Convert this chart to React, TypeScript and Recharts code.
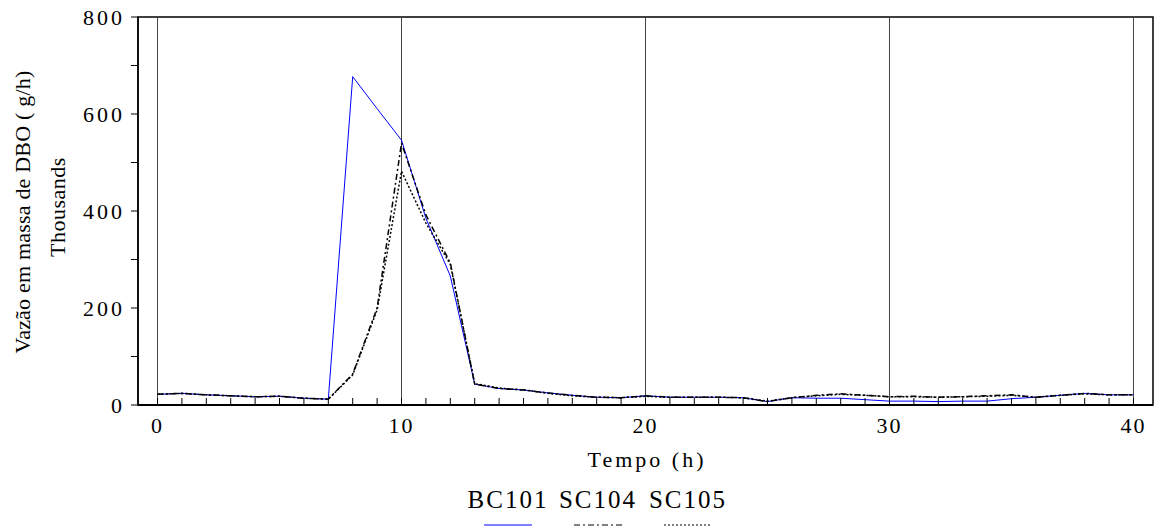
import {
  LineChart,
  Line,
  XAxis,
  YAxis,
  ReferenceLine,
  ReferenceArea,
  Legend,
} from "recharts";

const SERIF = "Liberation Serif, Tinos, DejaVu Serif, serif";

const hours = [
  0, 1, 2, 3, 4, 5, 6, 7, 8, 9, 10, 11, 12, 13, 14, 15, 16, 17, 18, 19, 20,
  21, 22, 23, 24, 25, 26, 27, 28, 29, 30, 31, 32, 33, 34, 35, 36, 37, 38, 39, 40,
];

// values in thousands of g/h
const bc101 = [
  22, 24, 21, 19, 17, 18, 14, 12, 677, 611, 546, 385, 266, 43, 34, 31, 25, 20,
  16, 15, 19, 16, 16, 16, 15, 7, 15, 14, 14, 11, 8, 8, 7, 8, 8, 13, 16, 20, 24,
  21, 21,
];
const sc104 = [
  22, 24, 21, 19, 17, 18, 14, 12, 64, 200, 540, 392, 293, 43, 34, 31, 25, 20,
  16, 15, 19, 16, 16, 16, 15, 7, 15, 20, 23, 20, 17, 18, 16, 17, 19, 21, 16, 20,
  24, 21, 21,
];
const sc105 = [
  22, 24, 21, 19, 17, 18, 14, 12, 62, 196, 482, 375, 290, 44, 35, 31, 24, 19,
  16, 15, 18, 16, 16, 16, 15, 8, 15, 19, 22, 20, 17, 17, 16, 17, 18, 20, 16, 20,
  23, 21, 21,
];

const xTicks = hours;
const gridHours = [0, 10, 20, 30, 40];
const yTicks = [0, 100, 200, 300, 400, 500, 600, 700, 800];

const seriesNames = ["BC101", "SC104", "SC105"];

const data = hours.map((h, i) => ({
  h,
  BC101: bc101[i],
  SC104: sc104[i],
  SC105: sc105[i],
}));

const legendStyles = [
  { stroke: "#0000ff", dash: undefined },
  { stroke: "#000", dash: "6 3 2 3" },
  { stroke: "#000", dash: "2 2" },
];

function XTick(props: any) {
  const { x, y, payload } = props;
  const v = payload.value as number;
  return (
    <g>
      <line x1={x} x2={x} y1={y} y2={y - 7} stroke="#000" strokeWidth={1} />
      {v % 10 === 0 && (
        <text
          x={x}
          y={y + 28}
          textAnchor="middle"
          fontFamily={SERIF}
          fontSize={22}
          letterSpacing={2}
          fill="#000"
        >
          {v}
        </text>
      )}
    </g>
  );
}

function renderLegend() {
  return (
    <div
      style={{
        display: "flex",
        justifyContent: "center",
        fontFamily: SERIF,
        fontSize: 25,
        letterSpacing: 2,
        color: "#000",
        paddingLeft: 36,
      }}
    >
      {seriesNames.map((name, i) => (
        <div
          key={name}
          style={{
            width: 90,
            display: "flex",
            flexDirection: "column",
            alignItems: "center",
          }}
        >
          <span style={{ lineHeight: "28px" }}>{name}</span>
          <svg width={48} height={14}>
            <line
              x1={0}
              x2={48}
              y1={11}
              y2={11}
              stroke={legendStyles[i].stroke}
              strokeDasharray={legendStyles[i].dash}
              strokeWidth={1}
            />
          </svg>
        </div>
      ))}
    </div>
  );
}

export default function App() {
  return (
    <div style={{ position: "absolute", left: 0, top: 0, background: "#fff" }}>
      <LineChart
        width={1160}
        height={530}
        data={data}
        margin={{ top: 17, right: 7, bottom: 95, left: 0 }}
      >
        <ReferenceArea
          x1={-0.8}
          x2={40.8}
          y1={0}
          y2={800}
          fill="none"
          stroke="#000"
          strokeWidth={1.5}
        />
        {gridHours.map((g) => (
          <ReferenceLine key={g} x={g} stroke="#444" strokeWidth={1} />
        ))}
        <XAxis
          dataKey="h"
          type="number"
          domain={[-0.8, 40.8]}
          ticks={xTicks}
          interval={0}
          height={30}
          tickSize={0}
          tickMargin={0}
          tickLine={false}
          axisLine={{ stroke: "#000", strokeWidth: 2 }}
          tick={<XTick />}
          label={{
            content: () => (
              <text
                x={647}
                y={467}
                textAnchor="middle"
                fontFamily={SERIF}
                fontSize={22}
                letterSpacing={3}
                fill="#000"
              >
                Tempo (h)
              </text>
            ),
          }}
        />
        <YAxis
          type="number"
          domain={[0, 800]}
          ticks={yTicks}
          interval={0}
          width={138}
          tickSize={7}
          tickMargin={6}
          tickLine={{ stroke: "#000" }}
          axisLine={{ stroke: "#000", strokeWidth: 1.5 }}
          tick={{ fill: "#000", fontSize: 22, fontFamily: SERIF, letterSpacing: 3 }}
          tickFormatter={(v: number) => (v % 200 === 0 ? String(v) : "")}
          label={{
            content: () => (
              <g fontFamily={SERIF} fontSize={22} fill="#000">
                <text
                  x={22}
                  y={212}
                  transform="rotate(-90 22 212)"
                  textAnchor="middle"
                  dominantBaseline="central"
                  letterSpacing={0.2}
                >
                  Vazão em massa de DBO ( g/h)
                </text>
                <text
                  x={57}
                  y={207}
                  transform="rotate(-90 57 207)"
                  textAnchor="middle"
                  dominantBaseline="central"
                  letterSpacing={0.5}
                >
                  Thousands
                </text>
              </g>
            ),
          }}
        />
        <Legend
          layout="horizontal"
          verticalAlign="middle"
          align="center"
          content={renderLegend}
          wrapperStyle={{ top: 486, left: 0, width: 1160 }}
        />
        <Line
          type="linear"
          dataKey="BC101"
          stroke="#0000ff"
          strokeWidth={1}
          dot={false}
          isAnimationActive={false}
        />
        <Line
          type="linear"
          dataKey="SC104"
          stroke="#000"
          strokeWidth={1.5}
          strokeDasharray="6 3 2 3"
          dot={false}
          isAnimationActive={false}
        />
        <Line
          type="linear"
          dataKey="SC105"
          stroke="#000"
          strokeWidth={1.5}
          strokeDasharray="2 2"
          dot={false}
          isAnimationActive={false}
        />
      </LineChart>
    </div>
  );
}
